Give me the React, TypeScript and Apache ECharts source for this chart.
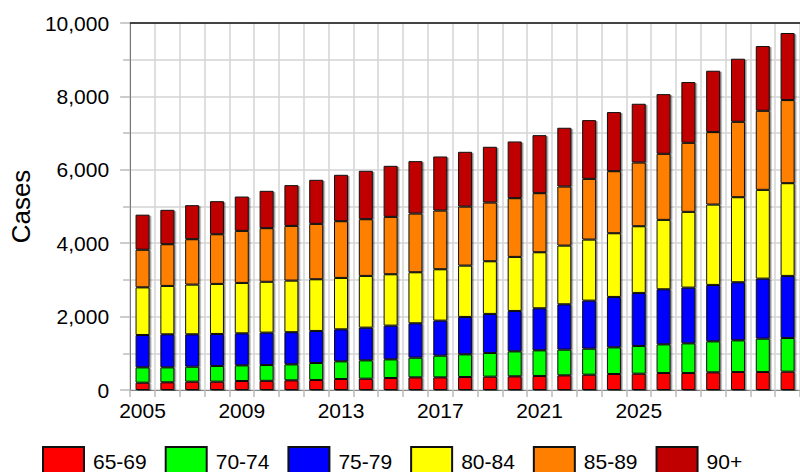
import React, { useEffect, useRef } from "react";
import * as echarts from "echarts";

const years = [
  "2005","2006","2007","2008","2009","2010","2011","2012","2013","2014",
  "2015","2016","2017","2018","2019","2020","2021","2022","2023","2024",
  "2025","2026","2027","2028","2029","2030","2031",
];
const labelledYears = ["2005", "2009", "2013", "2017", "2021", "2025"];

const age65_69 = [200,210,227,227,245,250,264,273,300,309,327,345,345,354,364,373,382,400,418,436,445,464,464,482,491,491,500];
const age70_74 = [418,408,409,428,428,430,436,463,482,500,509,537,591,619,645,681,700,700,709,727,755,781,808,845,863,909,918];
const age75_79 = [881,900,882,872,872,884,875,873,872,891,919,936,955,1018,1064,1100,1145,1236,1309,1373,1445,1500,1519,1536,1582,1636,1691];
const age80_84 = [1299,1318,1355,1364,1373,1386,1407,1409,1400,1409,1399,1391,1400,1400,1436,1473,1527,1600,1664,1736,1818,1891,2063,2191,2318,2418,2527];
const age85_89 = [1025,1137,1236,1354,1418,1460,1490,1509,1546,1545,1564,1600,1600,1608,1600,1600,1610,1609,1654,1691,1736,1800,1882,1973,2054,2155,2264];
const age90plus = [954,936,927,900,936,1017,1110,1200,1263,1318,1390,1427,1472,1491,1518,1545,1580,1600,1600,1610,1600,1626,1655,1672,1718,1763,1827];

const seriesNames = ["65-69", "70-74", "75-79", "80-84", "85-89", "90+"];
const seriesData = [age65_69, age70_74, age75_79, age80_84, age85_89, age90plus];
const seriesColors = ["#ff0000", "#00ff00", "#0000ff", "#ffff00", "#ff8000", "#c00000"];

const FONT = "'Liberation Sans', Arial, Helvetica, sans-serif";

export default function App() {
  const ref = useRef<HTMLDivElement>(null);

  useEffect(() => {
    if (!ref.current) return;
    const chart = echarts.init(ref.current, undefined, { renderer: "svg" });
    chart.setOption({
      animation: false,
      backgroundColor: "#ffffff",
      textStyle: { fontFamily: FONT },
      grid: { left: 128, top: 23, width: 675, bottom: 82, containLabel: false },
      legend: {
        left: 42,
        top: 446,
        padding: 0,
        itemWidth: 41,
        itemHeight: 28,
        itemGap: 18,
        icon: "rect",
        textStyle: { fontSize: 21, lineHeight: 28, color: "#000", fontFamily: FONT, padding: [0, 0, 0, 4] },
        data: seriesNames,
      },
      xAxis: [
        {
          type: "category",
          data: years,
          boundaryGap: true,
          axisLine: { show: true, lineStyle: { color: "#888", width: 1 } },
          axisTick: { show: true, interval: 0, length: 7, lineStyle: { color: "#bbb", width: 1.5 } },
          axisLabel: {
            interval: (_i: number, v: string) => labelledYears.includes(v),
            fontSize: 21,
            color: "#000",
            margin: 10,
            fontFamily: FONT,
          },
          splitLine: { show: true, interval: 0, lineStyle: { color: "#d4d4d4", width: 1.5 } },
        },
        {
          type: "category",
          data: years,
          position: "top",
          axisLine: { show: true, lineStyle: { color: "#111", width: 1.5 } },
          axisTick: { show: false },
          axisLabel: { show: false },
          splitLine: { show: false },
        },
      ],
      yAxis: {
        type: "value",
        min: 0,
        max: 10000,
        interval: 2000,
        name: "Cases",
        nameLocation: "middle",
        nameGap: 93,
        nameTextStyle: { fontSize: 26, color: "#000", fontFamily: FONT },
        axisLine: { show: true, lineStyle: { color: "#777", width: 1 } },
        axisTick: { show: true, length: 10, lineStyle: { color: "#bbb", width: 1.5 } },
        minorTick: { show: true, splitNumber: 2, length: 7, lineStyle: { color: "#bbb", width: 1.5 } },
        axisLabel: {
          fontSize: 21,
          color: "#000",
          margin: 21,
          fontFamily: FONT,
          formatter: (v: number) => v.toLocaleString("en-US"),
        },
        splitLine: { show: true, lineStyle: { color: "#d4d4d4", width: 1.5 } },
        minorSplitLine: { show: true, lineStyle: { color: "#d4d4d4", width: 1.5 } },
      },
      series: seriesNames.map((name, i) => ({
        name,
        type: "bar",
        stack: "total",
        barWidth: 14,
        data: seriesData[i],
        itemStyle: {
          color: seriesColors[i],
          borderColor: "#111",
          borderWidth: 1,
          shadowColor: "rgba(0,0,0,0.45)",
          shadowOffsetX: 1.5,
          shadowOffsetY: 1,
          shadowBlur: 0,
        },
      })),
    });
    return () => chart.dispose();
  }, []);

  return (
    <div style={{ position: "fixed", left: 0, top: 0, width: 800, height: 472 }}>
      <div ref={ref} style={{ width: 800, height: 472 }} />
    </div>
  );
}
